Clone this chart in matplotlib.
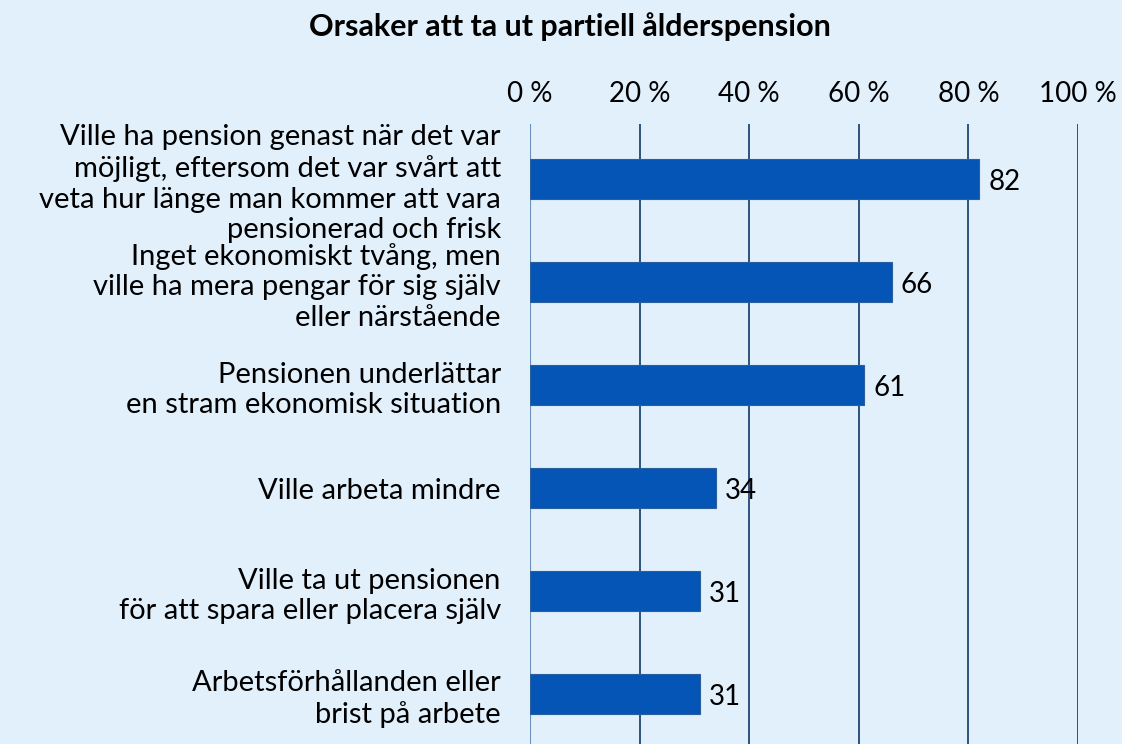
import matplotlib.pyplot as plt
import numpy as np

plt.rcParams['font.family'] = ['Lato', 'DejaVu Sans']

# data
categories = [
    'Ville ha pension genast när det var\nmöjligt, eftersom det var svårt att\nveta hur länge man kommer att vara\npensionerad och frisk',
    'Inget ekonomiskt tvång, men\nville ha mera pengar för sig själv\neller närstående',
    'Pensionen underlättar\nen stram ekonomisk situation',
    'Ville arbeta mindre',
    'Ville ta ut pensionen\nför att spara eller placera själv',
    'Arbetsförhållanden eller\nbrist på arbete',
]
values = [82, 66, 61, 34, 31, 31]
x_ticks = [0, 20, 40, 60, 80, 100]
x_ticklabels = [f'{t} %' for t in x_ticks]
title = 'Orsaker att ta ut partiell ålderspension'

bg = '#E2F0FC'
bar_color = '#0455B5'
grid_color = '#1F4673'

fig = plt.figure(figsize=(11.22, 7.44), dpi=100, facecolor=bg)
ax = fig.add_axes([530 / 1122, 0.0, 548 / 1122, 1 - 124 / 744])
ax.set_facecolor(bg)

y = np.arange(len(categories))
ax.barh(y, values, height=0.38, color=bar_color, edgecolor='#2B5E9C', linewidth=0.8, zorder=3)

for yi, v in zip(y, values):
    ax.text(v + 1.6, yi + 0.03, str(v), va='center', ha='left', fontsize=20, color='black', zorder=4)

ax.set_xlim(0, 100)
ax.set_ylim(5.485, -0.534)
ax.set_xticks(x_ticks)
ax.set_xticklabels(x_ticklabels, fontsize=20)
ax.xaxis.tick_top()
ax.tick_params(axis='x', length=0, pad=12)
ax.set_yticks(y)
ax.set_yticklabels(categories, fontsize=21, linespacing=1.22)
ax.tick_params(axis='y', length=0, pad=21)

for t in x_ticks[1:]:
    ax.axvline(t, color=grid_color, linewidth=1.3, zorder=1)
ax.axvline(0, color='#6A8FBC', linewidth=1.5, zorder=2)

for s in ax.spines.values():
    s.set_visible(False)

fig.text(570 / 1122, 1 - 27 / 744, title, ha='center', va='center', fontsize=22, fontweight='bold')

fig.savefig('out.png', dpi=100, facecolor=bg)
